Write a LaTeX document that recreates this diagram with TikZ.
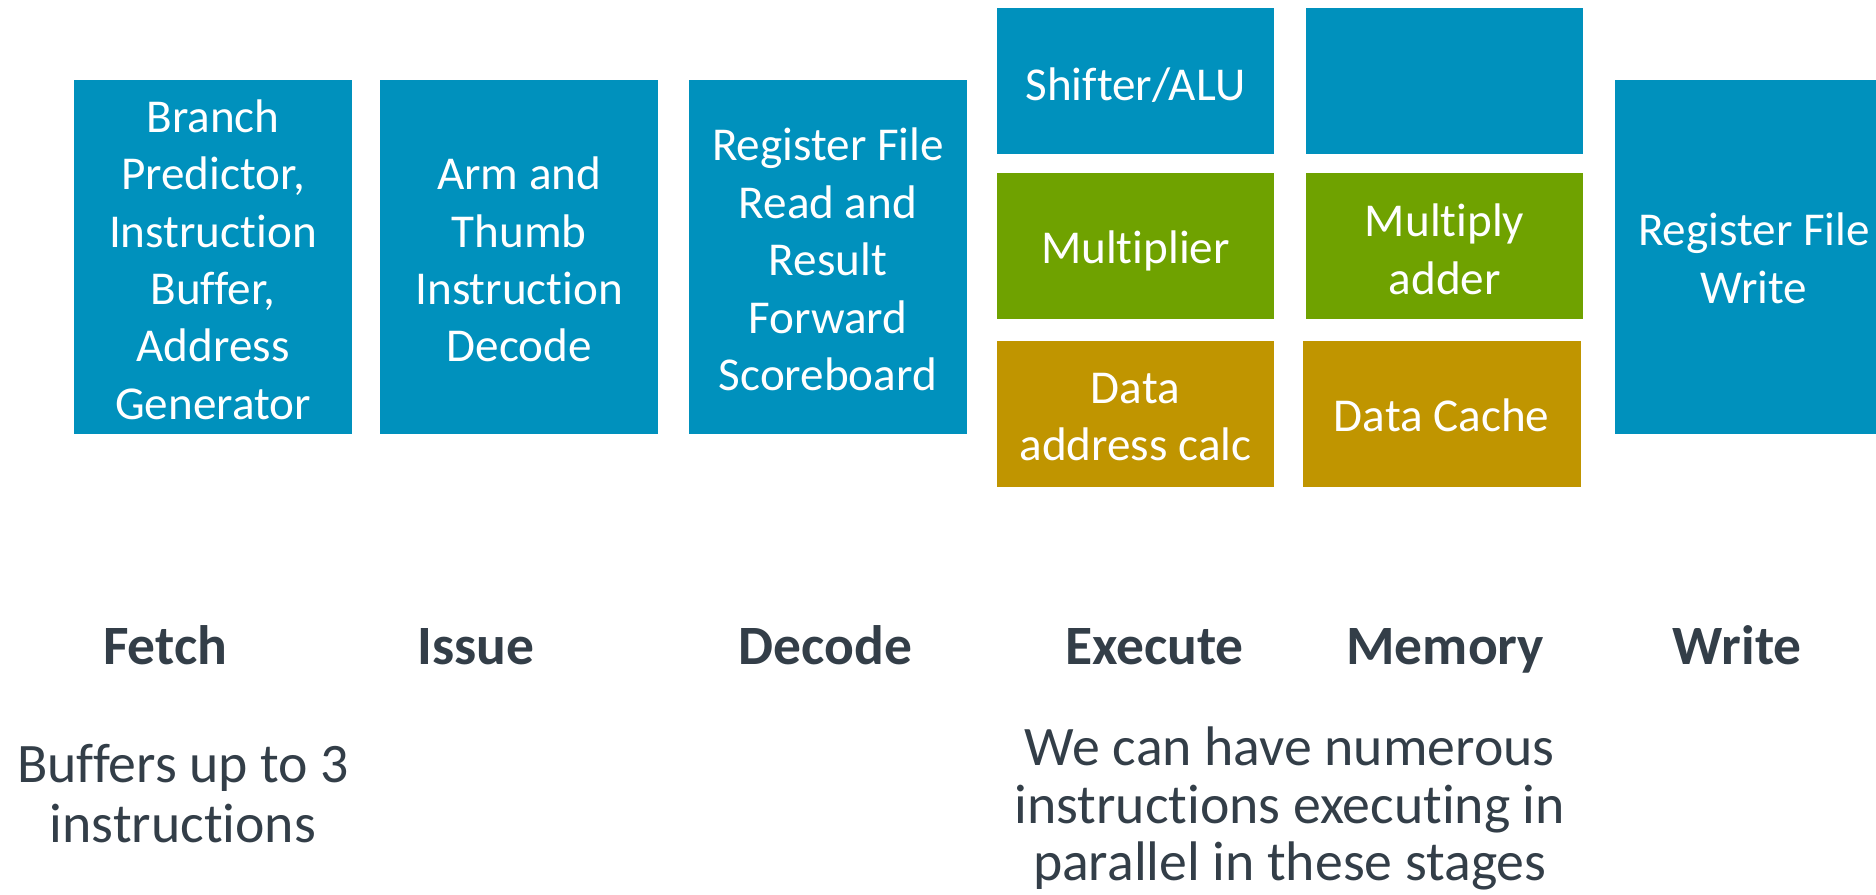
\documentclass[tikz,border=0pt]{standalone}
\usepackage{fontspec}
\setmainfont{Carlito}[Ligatures=NoCommon]
\definecolor{armblue}{HTML}{0091BD}
\definecolor{armgreen}{HTML}{6FA200}
\definecolor{armgold}{HTML}{C09500}
\definecolor{armtext}{HTML}{333E48}
\begin{document}
\begin{tikzpicture}[x=0.5pt,y=-0.5pt,
  blk/.style={inner sep=0pt, minimum width=116pt},
  tall/.style={blk, minimum height=148pt},
  small/.style={blk, minimum height=61pt},
  btext/.style={inner sep=0pt, align=center, text=white,
    font=\fontsize{19.7pt}{24pt}\selectfont},
  stage/.style={inner sep=0pt, text=armtext, font=\fontsize{23.2pt}{27pt}\selectfont\bfseries},
  note/.style={inner sep=0pt, text=armtext, align=center, font=\fontsize{23.3pt}{25pt}\selectfont}]
\useasboundingbox (0,0) rectangle (1568,748);
\node[tall, fill=armblue] (fetch) at (178,215) {};
\node[tall, fill=armblue] (issue) at (434,215) {};
\node[tall, fill=armblue] (decode) at (692,215) {};
\node[small, fill=armblue] (shifter) at (949,67.5) {};
\node[small, fill=armblue] (memtop) at (1207.5,67.5) {};
\node[small, fill=armgreen] (mult) at (949,206) {};
\node[small, fill=armgreen] (madd) at (1207.5,206) {};
\node[small, fill=armgold] (dac) at (949,346) {};
\node[small, fill=armgold] (dcache) at (1205,346) {};
\node[tall, fill=armblue] (write) at (1466,215) {};
\node[btext] (tfetch) at ([yshift=-1pt]fetch.center) {Branch\\Predictor,\\Instruction\\Buffer,\\Address\\Generator};
\node[btext] (tissue) at ([yshift=-1pt]issue.center) {Arm and\\Thumb\\Instruction\\Decode};
\node[btext] (tdecode) at ([yshift=-1pt]decode.center) {Register File\\Read and\\Result\\Forward\\Scoreboard};
\node[btext] (tshifter) at ([yshift=-1.7pt]shifter.center) {Shifter/ALU};
\node[btext] (tmult) at ([yshift=-1.7pt]mult.center) {Multiplier};
\node[btext] (tmadd) at ([yshift=-1.2pt]madd.center) {Multiply\\adder};
\node[btext] (tdac) at ([yshift=-1.2pt]dac.center) {Data\\address calc};
\node[btext] (tdcache) at ([yshift=-0.7pt]dcache.center) {Data Cache};
\node[btext] (twrite) at ([yshift=-0.5pt]write.center) {Register File\\Write};
\node[stage, anchor=base] (lfetch) at (138,555) {Fetch};
\node[stage, anchor=base] (lissue) at (398,555) {Issue};
\node[stage, anchor=base] (ldecode) at (690,555) {Decode};
\node[stage, anchor=base] (lexec) at (965,555) {Execute};
\node[stage, anchor=base] (lmem) at (1208,555) {Memory};
\node[stage, anchor=base] (lwrite) at (1452,555) {Write};
\node[note] (nfetch) at (153,663) {Buffers up to 3\\instructions};
\node[note, font=\fontsize{23.3pt}{24pt}\selectfont] (nexec) at (1078,676) {We can have numerous\\instructions executing in\\parallel in these stages};
\end{tikzpicture}
\end{document}
